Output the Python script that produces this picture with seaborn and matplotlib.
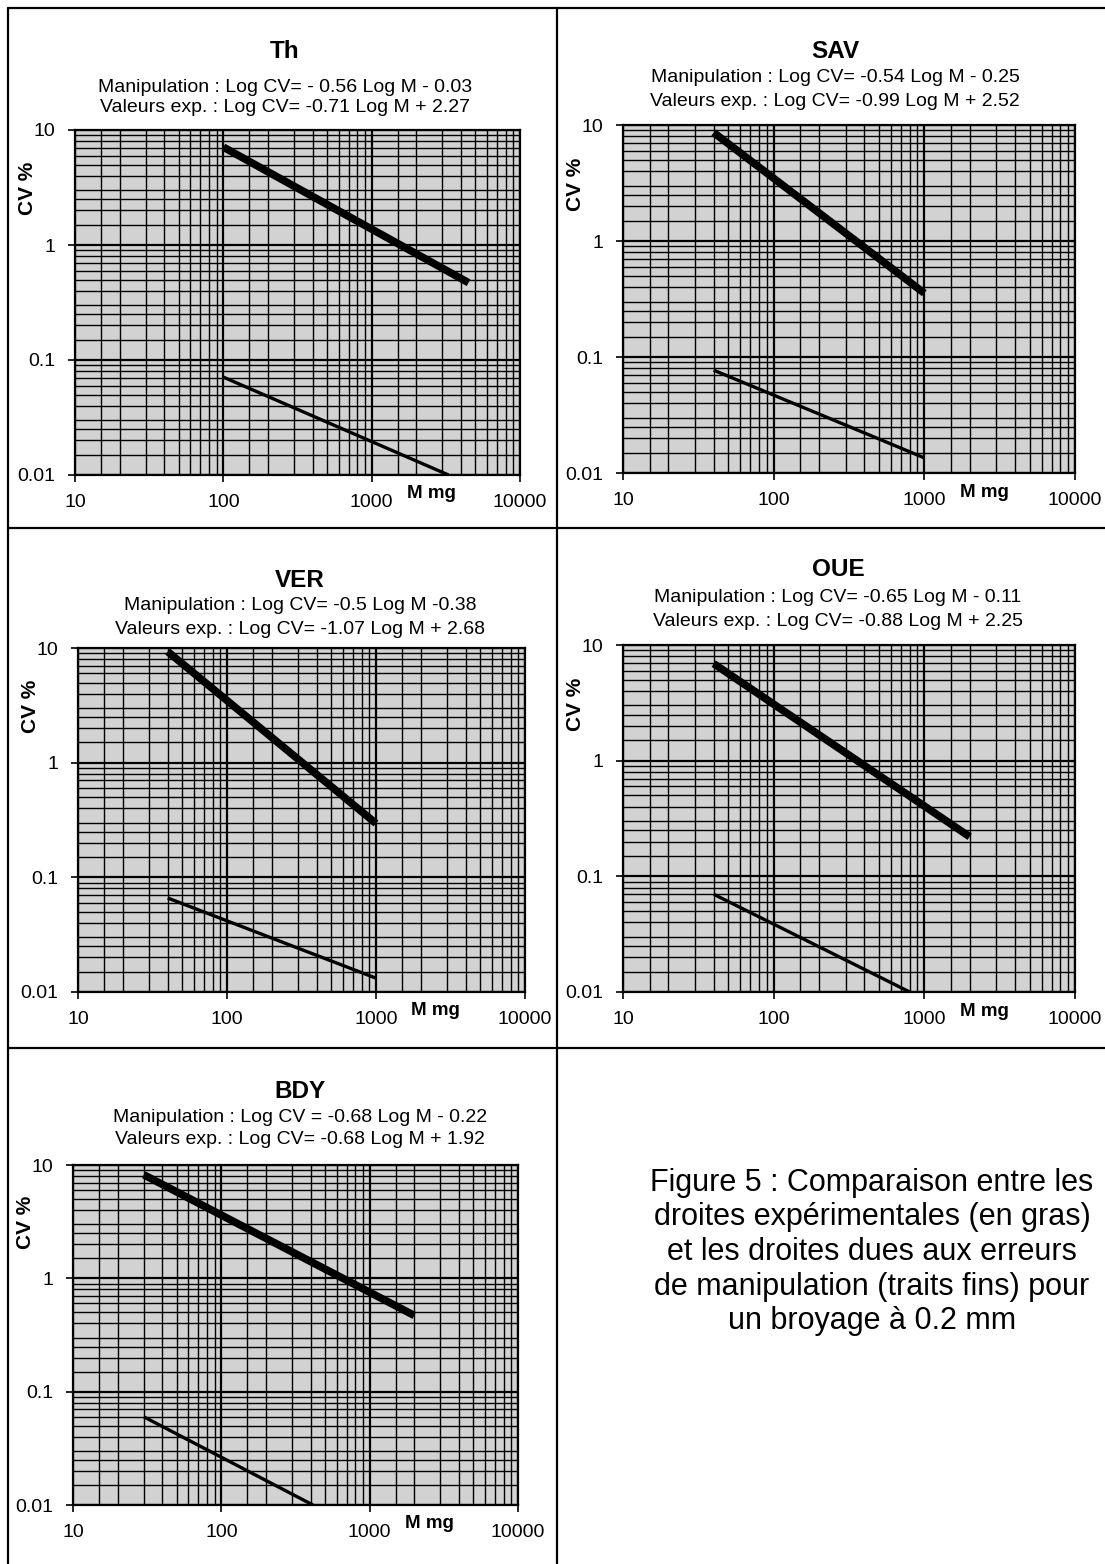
"""Figure 5: experimental vs handling-error lines, CV % against sample mass (log-log)."""

import matplotlib

matplotlib.use("Agg")
import matplotlib.pyplot as plt
import seaborn as sns
from matplotlib.lines import Line2D
from matplotlib.ticker import LogLocator, NullFormatter

sns.set_theme(style="white")
plt.rcParams["font.family"] = ["Liberation Sans", "DejaVu Sans"]
plt.rcParams["text.color"] = "black"

W, H = 1105, 1564

# panel names and equation captions
panels = ["Th", "SAV", "VER", "OUE", "BDY"]
manip_text = [
    "Manipulation : Log CV= - 0.56 Log M - 0.03",
    "Manipulation : Log CV= -0.54 Log M - 0.25",
    "Manipulation : Log CV= -0.5 Log M -0.38",
    "Manipulation : Log CV= -0.65 Log M - 0.11",
    "Manipulation : Log CV = -0.68 Log M - 0.22",
]
exp_text = [
    "Valeurs exp. : Log CV= -0.71 Log M + 2.27",
    "Valeurs exp. : Log CV= -0.99 Log M + 2.52",
    "Valeurs exp. : Log CV= -1.07 Log M + 2.68",
    "Valeurs exp. : Log CV= -0.88 Log M + 2.25",
    "Valeurs exp. : Log CV= -0.68 Log M + 1.92",
]

# end points (mass in mg, CV in %)
exp_mass = [[100, 4500], [40, 1000], [40, 1000], [40, 2000], [30, 2000]]
exp_cv = [[7.1, 0.47], [8.6, 0.355], [9.3, 0.295], [6.9, 0.22], [8.2, 0.47]]
manip_mass = [[100, 3300], [40, 1000], [40, 1000], [40, 800], [30, 415]]
manip_cv = [[0.071, 0.01], [0.077, 0.0135], [0.066, 0.0132], [0.07, 0.01], [0.06, 0.01]]

x_ticks = [10, 100, 1000, 10000]
x_labels = ["10", "100", "1000", "10000"]
y_ticks = [0.01, 0.1, 1, 10]
y_labels = ["0.01", "0.1", "1", "10"]

caption = (
    "Figure 5 : Comparaison entre les\n"
    "droites expérimentales (en gras)\n"
    "et les droites dues aux erreurs\n"
    "de manipulation (traits fins) pour\n"
    "un broyage à 0.2 mm"
)

# layout in pixels: axes (left, top, right, bottom), title x, title y, eq line ys
axes_px = [
    (75, 130, 520, 475),
    (623, 125, 1075, 473),
    (78, 648, 525, 992),
    (623, 645, 1075, 992),
    (73, 1165, 518, 1505),
]
title_pos = [(285, 52, 88, 108), (835, 52, 78, 102), (300, 580, 605, 630),
             (838, 570, 598, 622), (300, 1092, 1117, 1140)]


def fx(x):
    return x / W


def fy(y):
    return 1 - y / H


fig = plt.figure(figsize=(W / 100, H / 100), dpi=100)
fig.patch.set_facecolor("white")

for i, name in enumerate(panels):
    l, t, r, b = axes_px[i]
    ax = fig.add_axes([fx(l), fy(b), (r - l) / W, (b - t) / H])
    ax.set_xscale("log")
    ax.set_yscale("log")
    ax.set_facecolor("#d2d2d2")

    sns.lineplot(x=exp_mass[i], y=exp_cv[i], ax=ax, color="black",
                 linewidth=5.5, solid_capstyle="butt", zorder=5)
    sns.lineplot(x=manip_mass[i], y=manip_cv[i], ax=ax, color="black",
                 linewidth=2.4, solid_capstyle="butt", zorder=5)

    ax.set_xlim(10, 10000)
    ax.set_ylim(0.01, 10)
    ax.set_xticks(x_ticks, x_labels)
    ax.set_yticks(y_ticks, y_labels)
    ax.xaxis.set_minor_locator(LogLocator(base=10, subs=[1.5, 2, 3, 4, 5, 6, 7, 8, 9]))
    ax.yaxis.set_minor_locator(LogLocator(base=10, subs=[1.5, 2, 2.5, 3, 4, 5, 6, 7, 8, 9]))
    ax.xaxis.set_minor_formatter(NullFormatter())
    ax.yaxis.set_minor_formatter(NullFormatter())
    ax.grid(which="major", color="black", linewidth=1.6)
    ax.grid(which="minor", color="black", linewidth=1.0)
    ax.set_axisbelow(True)
    ax.tick_params(which="major", direction="out", length=5, width=1.2,
                   bottom=True, left=True, labelsize=14, pad=9, colors="black")
    ax.tick_params(which="minor", length=0)
    for sp in ax.spines.values():
        sp.set_color("black")
        sp.set_linewidth(1.6)

    ax.set_xlabel("")
    ax.set_ylabel("CV %", fontsize=15, fontweight="bold", color="black")
    ax.yaxis.set_label_coords(-0.085, 0.83)
    ax.text(0.8, -0.055, "M mg", transform=ax.transAxes, fontsize=13.5,
            fontweight="bold", ha="center", va="center")

    tx, ty, y1, y2 = title_pos[i]
    fig.text(fx(tx), fy(ty), name, fontsize=17.5, fontweight="bold", ha="center", va="center")
    fig.text(fx(tx), fy(y1), manip_text[i], fontsize=14, ha="center", va="center")
    fig.text(fx(tx), fy(y2), exp_text[i], fontsize=14, ha="center", va="center")

fig.text(fx(872), fy(1252), caption, fontsize=22, ha="center", va="center",
         linespacing=1.2)

# table borders
border = [
    ((8, 1105), (8, 8)),
    ((8, 1105), (528, 528)),
    ((8, 1105), (1048, 1048)),
    ((8, 8), (8, 1564)),
    ((557, 557), (8, 1564)),
]
for xs, ys in border:
    fig.add_artist(Line2D([fx(v) for v in xs], [fy(v) for v in ys],
                          color="black", linewidth=1.6))

fig.savefig("out.png", dpi=100)
plt.close(fig)
